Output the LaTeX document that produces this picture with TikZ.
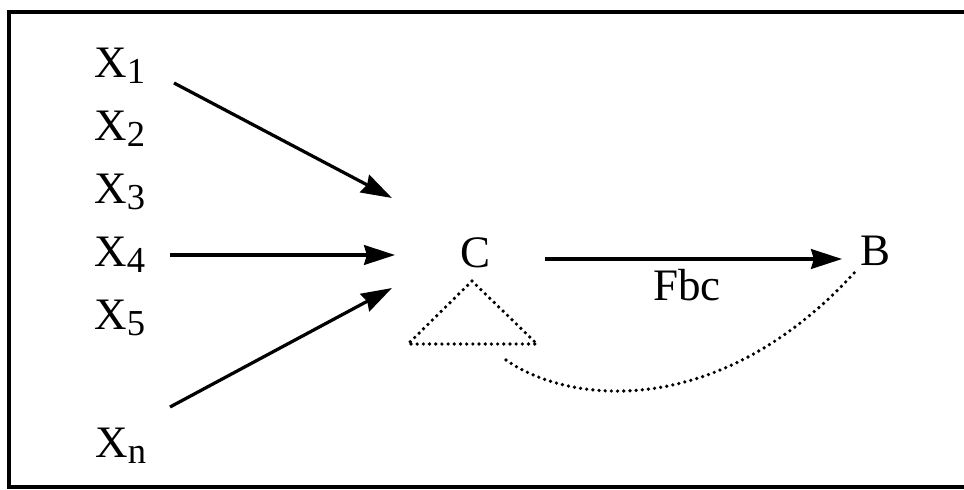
\documentclass[tikz,border=0pt]{standalone}
\usepackage{fontspec}
\setmainfont{Liberation Serif}
\usetikzlibrary{arrows.meta}
\newcommand\Xsub[1]{X\raisebox{-4.3pt}{\fontsize{26}{30}\selectfont #1}}

\begin{document}
\begin{tikzpicture}[x=0.025cm, y=-0.025cm,
  lbl/.style={anchor=base west, inner sep=0pt, font=\fontsize{32}{38}\selectfont},
  arr/.style={line width=2.3pt, -{Stealth[length=22pt,width=14pt,inset=2pt]}},
  dotline/.style={line width=2.6pt, line cap=round, dash pattern=on 0pt off 4.4pt}]
  \useasboundingbox (0,0) rectangle (964,489);
  % frame, open on the right
  \draw[line width=2.5pt] (964,12) -- (9,12) -- (9,487) -- (964,487);
  % inputs
  \foreach \i in {1,...,5}
    \node[lbl] (x\i) at (94,{14+63*\i}) {\Xsub{\i}};
  \node[lbl] (xn) at (95,457) {\Xsub{n}};
  \node[lbl] (c) at (460,267) {C};
  \node[lbl] (b) at (860,265) {B};
  \node[lbl] (fbc) at (653,300) {Fbc};
  \coordinate (in1) at (392,198);
  \coordinate (in4) at (395,255);
  \coordinate (inn) at (392,288);
  \draw[arr] ([shift={(80,6)}]x1.base west) -- (in1);
  \draw[arr] ([shift={(76,-11)}]x4.base west) -- (in4);
  \draw[arr] ([shift={(75,-50)}]xn.base west) -- (inn);
  \draw[arr] ([shift={(85,-8)}]c.base west) -- ([shift={(-18,-6)}]b.base west);
  % dotted feedback
  \draw[dotline] (472,281) -- (537,344) -- (408,344) -- cycle;
  \draw[dotline] (506,360) .. controls (570,405) and (720,420) .. ([shift={(-5,7)}]b.base west);
\end{tikzpicture}
\end{document}
